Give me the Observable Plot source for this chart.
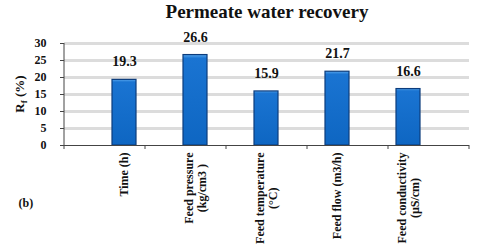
<!DOCTYPE html>
<html><head><meta charset="utf-8">
<script src="https://cdn.jsdelivr.net/npm/d3@7"></script>
<script src="https://cdn.jsdelivr.net/npm/@observablehq/plot@0.6"></script>
<style>body{margin:0;background:#fff;} svg{display:block;}</style>
</head><body><div id="chart"></div>
<script>
const categories = ["Time (h)", "Feed pressure (kg/cm3 )", "Feed temperature (°C)", "Feed flow (m3/h)", "Feed conductivity (µS/cm)"];
const labelLines = [["Time (h)"], ["Feed pressure", "(kg/cm3 )"], ["Feed temperature", "(°C)"], ["Feed flow (m3/h)"], ["Feed conductivity", "(µS/cm)"]];
const values = [19.3, 26.6, 15.9, 21.7, 16.6];
const yTicks = [0, 5, 10, 15, 20, 25, 30];

const serif = "'Liberation Serif', 'Times New Roman', serif";
const data = categories.map((c, i) => ({cat: c, value: values[i]}));

const ctx = document.createElement("canvas").getContext("2d");
ctx.font = "bold 12px " + serif;
const lineRows = [];
labelLines.forEach((lines, i) => {
  const W = Math.max(...lines.map(l => ctx.measureText(l).width));
  lines.forEach((l, j) => lineRows.push({cat: categories[i], text: l, j, n: lines.length, half: W / 2}));
});

const labelMarks = lineRows.map(r => Plot.text([r], {
  x: "cat", y: () => 0, text: "text", rotate: -90, textAnchor: "middle",
  dy: 7 + r.half, dx: (r.j - (r.n - 1) / 2) * 13,
  fontSize: 12, fontWeight: "bold", fontFamily: serif, fill: "#111"
}));

const chart = Plot.plot({
  width: 480, height: 245,
  marginLeft: 64, marginRight: 11, marginTop: 43, marginBottom: 100,
  style: {fontFamily: serif, background: "#fff"},
  x: {domain: categories, padding: 0.66, axis: null},
  y: {domain: [0, 30], axis: null},
  marks: [
    Plot.ruleY(yTicks.filter(d => d > 0), {stroke: "#dcdcdc", strokeWidth: 3}),
    Plot.barY(data, {x: "cat", y: "value", fill: "url(#barGrad)", stroke: "#0c3c7c", strokeWidth: 1.2}),
    Plot.text(data, {x: "cat", y: "value", text: d => d.value.toFixed(1), dy: -18, fontSize: 14, fontWeight: "bold", fontFamily: serif, fill: "#111"}),
    Plot.ruleY([0], {stroke: "#444", strokeWidth: 1}),
    Plot.axisY(yTicks, {anchor: "left", tickSize: 4, tickPadding: 14, fontSize: 12, fontWeight: "bold", fontFamily: serif, stroke: "#444", label: null, color: "#111"}),
    Plot.text(["Permeate water recovery"], {frameAnchor: "top", dy: -39, fontSize: 19, fontWeight: "bold", fontFamily: serif, fill: "#111"}),
    Plot.text(["(b)"], {frameAnchor: "bottom-left", dx: -46, dy: 61, fontSize: 12, fontWeight: "bold", fontFamily: serif, fill: "#111"}),
    ...labelMarks
  ]
});

const svg = d3.select(chart);
const defs = svg.insert("defs", ":first-child");
const g = defs.append("linearGradient").attr("id", "barGrad").attr("x1", 0).attr("x2", 0).attr("y1", 0).attr("y2", 1);
g.append("stop").attr("offset", "0%").attr("stop-color", "#5aa8ee");
g.append("stop").attr("offset", "4%").attr("stop-color", "#1a74d2");
g.append("stop").attr("offset", "100%").attr("stop-color", "#0e66c2");

const ys = chart.scale("y");
const y0 = ys.apply(0), yTop = ys.apply(30);
const left = 64, right = 480 - 11;
svg.append("line").attr("x1", left).attr("x2", left).attr("y1", yTop).attr("y2", y0).attr("stroke", "#444");
for (let i = 0; i <= categories.length; i++) {
  const x = left + i * (right - left) / categories.length;
  svg.append("line").attr("x1", x).attr("x2", x).attr("y1", y0).attr("y2", y0 + 4).attr("stroke", "#444");
}
const t = svg.append("text").attr("transform", `translate(24,${(y0 + yTop) / 2}) rotate(-90)`)
  .attr("text-anchor", "middle").attr("font-family", serif).attr("font-weight", "bold").attr("font-size", 13).attr("fill", "#111");
t.append("tspan").text("R");
t.append("tspan").attr("font-size", 9).attr("dy", 3).text("f");
t.append("tspan").attr("dy", -3).text(" (%)");

document.getElementById("chart").appendChild(chart);
</script></body></html>
